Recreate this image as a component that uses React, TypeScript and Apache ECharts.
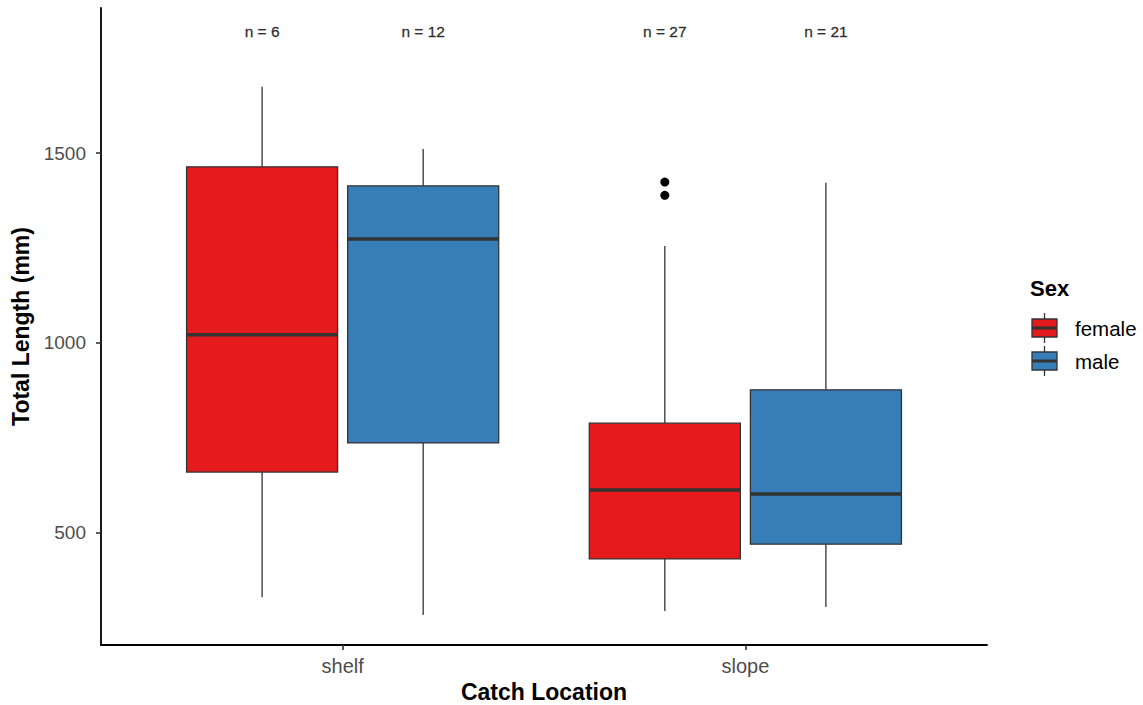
import React, { useEffect, useRef } from 'react';
import * as echarts from 'echarts';

// ---------- data ----------
const categories = ['shelf', 'slope'];
const sexes = ['female', 'male'];
const sexColors = ['#E41A1C', '#377EB8'];
// [min, Q1, median, Q3, max] per catch location
const femaleStats = [
  [329, 659, 1021, 1464, 1675],
  [293, 430, 612, 788, 1255],
];
const maleStats = [
  [282, 736, 1274, 1414, 1511],
  [303, 469, 601, 876, 1422],
];
const femaleOutliers = [[], [1424, 1389]];
const maleOutliers = [[], []];
const femaleCounts = [6, 27];
const maleCounts = [12, 21];
const yTicks = [500, 1000, 1500];

// ---------- layout constants ----------
const DODGE = 0.2;
const BOX_W = 0.375;
const LABEL_Y = 1820;
const FONT = '"Liberation Sans", Arial, sans-serif';

const statsBySex = [femaleStats, maleStats];
const outliersBySex = [femaleOutliers, maleOutliers];
const countsBySex = [femaleCounts, maleCounts];
const xPos = (ci: number, si: number) => ci + 1 + (si === 0 ? -DODGE : DODGE);

export default function App() {
  const ref = useRef<HTMLDivElement>(null);
  useEffect(() => {
    if (!ref.current) return;
    const chart = echarts.init(ref.current, undefined, { renderer: 'svg' });

    const boxSeries = sexes.map((sex, si) => ({
      type: 'custom',
      name: sex,
      xAxisIndex: 0,
      yAxisIndex: 0,
      encode: { x: 0, y: [1, 2, 3, 4, 5] },
      data: statsBySex[si].map((s, ci) => [xPos(ci, si), ...s]),
      renderItem: (params: any, api: any) => {
        const x = api.value(0);
        const pMin = api.coord([x, api.value(1)]);
        const pQ1 = api.coord([x, api.value(2)]);
        const pMed = api.coord([x, api.value(3)]);
        const pQ3 = api.coord([x, api.value(4)]);
        const pMax = api.coord([x, api.value(5)]);
        const left = api.coord([x - BOX_W / 2, 1000])[0];
        const right = api.coord([x + BOX_W / 2, 1000])[0];
        const ls = { stroke: '#333333', lineWidth: 1.3 };
        return {
          type: 'group',
          children: [
            { type: 'line', shape: { x1: pQ3[0], y1: pQ3[1], x2: pMax[0], y2: pMax[1] }, style: ls },
            { type: 'line', shape: { x1: pQ1[0], y1: pQ1[1], x2: pMin[0], y2: pMin[1] }, style: ls },
            {
              type: 'rect',
              shape: { x: left, y: pQ3[1], width: right - left, height: pQ1[1] - pQ3[1] },
              style: { fill: sexColors[si], stroke: '#333333', lineWidth: 1.3 },
            },
            { type: 'line', shape: { x1: left, y1: pMed[1], x2: right, y2: pMed[1] }, style: { stroke: '#333333', lineWidth: 3.5 } },
          ],
        };
      },
      silent: true,
    }));

    const outlierData: number[][] = [];
    sexes.forEach((_, si) =>
      outliersBySex[si].forEach((arr, ci) => arr.forEach((v) => outlierData.push([xPos(ci, si), v])))
    );

    const countData: any[] = [];
    sexes.forEach((_, si) =>
      countsBySex[si].forEach((n, ci) => countData.push([xPos(ci, si), LABEL_Y, n]))
    );

    const legendItems: any[] = [];
    sexes.forEach((sex, si) => {
      const cy = 328 + si * 33;
      legendItems.push(
        { type: 'line', shape: { x1: 1044.5, y1: cy - 15, x2: 1044.5, y2: cy + 15 }, style: { stroke: '#333333', lineWidth: 1.3 } },
        { type: 'rect', shape: { x: 1032, y: cy - 9, width: 25, height: 18 }, style: { fill: sexColors[si], stroke: '#333333', lineWidth: 1.3 } },
        { type: 'line', shape: { x1: 1032, y1: cy, x2: 1057, y2: cy }, style: { stroke: '#333333', lineWidth: 3 } },
        { type: 'text', x: 1075, y: cy, style: { text: sex, font: `20.5px ${FONT}`, fill: '#000000', verticalAlign: 'middle', textAlign: 'left' } }
      );
    });

    chart.setOption({
      animation: false,
      backgroundColor: '#ffffff',
      grid: { left: 101, right: 156, top: 8, bottom: 60, containLabel: false, outerBoundsMode: 'none' },
      xAxis: {
        type: 'value',
        min: 0.4,
        max: 2.6,
        name: 'Catch Location',
        nameLocation: 'middle',
        nameGap: 33,
        nameTextStyle: { fontFamily: FONT, fontSize: 23, fontWeight: 'bold', color: '#000000' },
        axisLine: { show: true, lineStyle: { color: '#000000', width: 1.8 } },
        axisTick: { show: true, length: 5, customValues: [1, 2], lineStyle: { color: '#333333', width: 1.6 } },
        axisLabel: {
          customValues: [1, 2],
          formatter: (v: number) => categories[Math.round(v) - 1] ?? '',
          fontFamily: FONT,
          fontSize: 20,
          color: '#4D4D4D',
          margin: 11,
        },
        splitLine: { show: false },
      },
      yAxis: {
        type: 'value',
        min: 203,
        max: 1883,
        name: 'Total Length (mm)',
        nameLocation: 'middle',
        nameGap: 66,
        nameTextStyle: { fontFamily: FONT, fontSize: 23, fontWeight: 'bold', color: '#000000' },
        axisLine: { show: true, lineStyle: { color: '#000000', width: 1.8 } },
        axisTick: { show: true, length: 5, customValues: yTicks, lineStyle: { color: '#333333', width: 1.6 } },
        axisLabel: {
          customValues: yTicks,
          formatter: (v: number) => String(v),
          fontFamily: FONT,
          fontSize: 19,
          color: '#4D4D4D',
          margin: 15,
        },
        splitLine: { show: false },
      },
      series: [
        ...boxSeries,
        {
          type: 'scatter',
          name: 'outliers',
          data: outlierData,
          symbol: 'circle',
          symbolSize: 9,
          itemStyle: { color: '#000000', opacity: 1 },
          silent: true,
        },
        {
          type: 'scatter',
          name: 'counts',
          data: countData,
          symbolSize: 0,
          silent: true,
          label: {
            show: true,
            position: 'inside',
            formatter: (p: any) => `n = ${p.value[2]}`,
            fontFamily: FONT,
            fontSize: 15.5,
            color: '#000000',
            textBorderColor: '#000000',
            textBorderWidth: 0.3,
          },
        },
      ],
      graphic: [
        { type: 'text', x: 1030, y: 299, style: { text: 'Sex', font: `bold 22px ${FONT}`, fill: '#000000', verticalAlign: 'bottom', textAlign: 'left' } },
        ...legendItems,
      ],
    });

    return () => chart.dispose();
  }, []);

  return <div ref={ref} style={{ position: 'fixed', left: 0, top: 0, width: 1143, height: 705 }} />;
}
